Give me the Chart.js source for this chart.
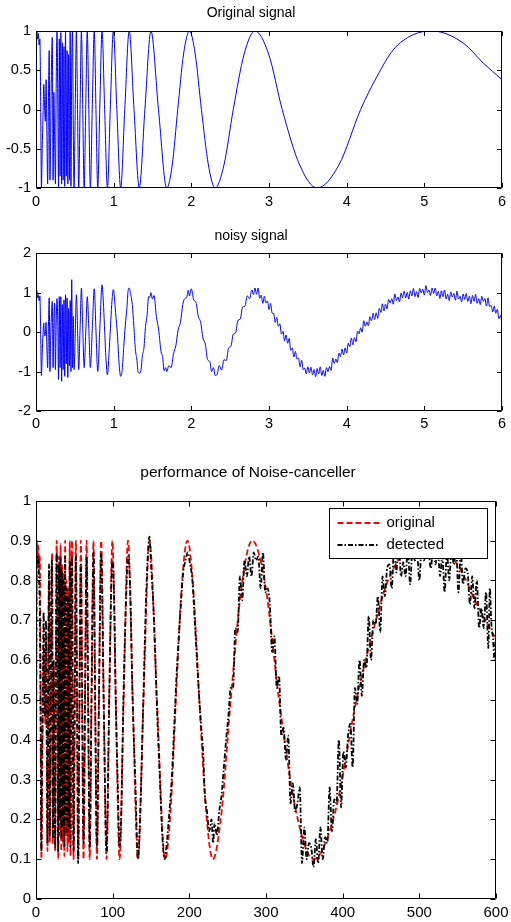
<!DOCTYPE html>
<html>
<head>
<meta charset="utf-8">
<script src="https://cdn.jsdelivr.net/npm/chart.js@4.4.0/dist/chart.umd.min.js"></script>
<style>
  body { margin: 0; background: #fff; }
  canvas { position: absolute; left: 0; }
</style>
</head>
<body>
<canvas id="c1" width="511" height="215" style="top:0px"></canvas>
<canvas id="c2" width="511" height="215" style="top:220px"></canvas>
<canvas id="c3" width="511" height="467" style="top:455px"></canvas>
<script>
// titles / labels
const titles = ['Original signal', 'noisy signal', 'performance of Noise-canceller'];
const legendLabels = ['original', 'detected'];

// tick values
const xTicksSec = [0, 1, 2, 3, 4, 5, 6];
const yTicks1 = [-1, -0.5, 0, 0.5, 1];
const yTicks2 = [-2, -1, 0, 1, 2];
const xTicksSamp = [0, 100, 200, 300, 400, 500, 600];
const yTicks3 = [0, 0.1, 0.2, 0.3, 0.4, 0.5, 0.6, 0.7, 0.8, 0.9, 1];

// original signal [t, y]
const origSignal = [
  [0,-0.7],[0.01,1],[0.02,0.9],[0.03,0.97],[0.04,0.82],[0.05,0.9],[0.06,0.1],[0.07,-1],[0.08,-0.5],[0.09,-0.1],
  [0.1,0.32],[0.11,0.05],[0.12,-0.15],[0.13,0.38],[0.14,-0.3],[0.15,-0.95],[0.16,0.1],[0.17,0.75],[0.18,-0.9],[0.19,-0.2],
  [0.2,0.6],[0.21,0.92],[0.22,-0.9],[0.23,0.22],[0.24,-0.4],[0.25,-0.95],[0.26,0.3],[0.27,1],[0.28,0.2],[0.29,-1],
  [0.3,0.9],[0.31,-0.85],[0.32,0.98],[0.33,-0.95],[0.34,0.85],[0.35,-0.9],[0.36,0.8],[0.37,-0.98],[0.38,1],[0.39,-0.85],
  [0.4,0.75],[0.41,-0.95],[0.42,0.7],[0.43,-0.9],[0.44,1],[0.45,-0.98],[0.46,0.55],[0.47,1],[0.48,-0.2],
  [0.49,-1],[0.505,0],[0.52,1],[0.535,0],[0.55,-1],[0.567,0],[0.585,1],[0.602,0],[0.62,-1],[0.64,0],
  [0.66,1],[0.68,0],[0.7,-1],[0.724,0],[0.75,1],[0.772,0],[0.795,-1],[0.821,0],[0.85,1],[0.884,0],
  [0.92,-1],[0.956,0],[0.996,1],[1.041,0],[1.09,-1],[1.143,0],[1.2,1],[1.262,0],[1.33,-1],[1.402,0],
  [1.48,1],[1.577,0],[1.684,-1],[1.754,-0.707],[1.825,0],[1.9,0.707],[1.976,1],[2.05,0.707],[2.13,0],[2.22,-0.707],
  [2.307,-1],[2.42,-0.707],[2.54,0],[2.68,0.707],[2.82,1],[2.995,0.707],[3.17,0],[3.395,-0.707],[3.62,-1],[3.9,-0.707],
  [4.18,0],[4.39,0.42],[4.6,0.76],[4.85,0.95],[5.1,1],[5.51,0.84],[5.76,0.59],[6.0,0.38]
];

// noisy signal [t, y]
const noisySignal = [
  [0,-0.8],[0.01,1.05],[0.02,0.87],[0.03,0.95],[0.04,0.8],[0.05,0.92],[0.06,0],[0.07,-1.1],[0.08,-0.55],[0.09,-0.05],
  [0.1,0.23],[0.11,-0.1],[0.12,-0.05],[0.13,0.25],[0.14,-0.4],[0.15,-0.9],[0.16,0.15],[0.17,0.87],[0.18,-1],[0.19,-0.1],
  [0.2,0.5],[0.21,0.78],[0.22,-0.9],[0.23,0.3],[0.24,0.74],[0.25,-0.95],[0.26,0.2],[0.27,0.85],[0.28,0.3],[0.29,-1.2],
  [0.3,0.9],[0.31,-0.9],[0.32,0.9],[0.33,-1.25],[0.34,0.7],[0.35,-0.95],[0.36,0.82],[0.37,-1.12],[0.38,0.95],[0.39,-0.8],
  [0.4,0.87],[0.41,-1.15],[0.42,0.6],[0.43,-0.85],[0.44,0.8],[0.45,-1],[0.46,1.33],[0.47,-0.9],[0.48,0.4],[0.49,-0.95],
  [0.505,-0.1],[0.52,0.95],[0.535,0.1],[0.55,-0.95],[0.567,0.05],[0.585,1.12],[0.602,0.1],[0.62,-0.9],[0.64,-0.05],[0.66,0.9],
  [0.68,0.1],[0.7,-0.9],[0.725,0.1],[0.75,1.1],[0.772,0.05],[0.795,-1],[0.822,0.1],[0.85,1.2],[0.87,0.65],[0.885,0],
  [0.9,-0.65],[0.92,-1.08],[0.94,-0.55],[0.958,0.1],[0.975,0.7],[0.996,1.08],
  [1.025,0.5],[1.05,-0.12],[1.07,-0.81],[1.09,-1.12],[1.11,-0.95],[1.13,-0.37],[1.15,0.18],[1.17,0.6],[1.185,1.03],[1.2,1.12],
  [1.22,0.95],[1.24,0.7],[1.26,0.15],[1.28,-0.44],[1.3,-0.72],[1.315,-1.02],[1.33,-1.04],[1.35,-0.98],[1.37,-0.6],[1.39,-0.4],
  [1.41,0.14],[1.43,0.42],[1.45,0.9],[1.465,0.88],[1.48,1],[1.5,0.84],[1.52,0.93],[1.55,0.4],[1.58,0.05],[1.61,-0.5],
  [1.63,-0.62],[1.65,-0.98],[1.67,-0.9],[1.684,-1],[1.71,-0.85],[1.74,-0.9],[1.77,-0.55],[1.8,-0.35],[1.83,0.06],[1.86,0.25],
  [1.89,0.7],[1.915,0.85],[1.94,0.88],[1.96,1.06],[1.976,0.92],[2,1.1],[2.03,0.82],[2.06,0.75],[2.09,0.4],[2.12,0.25],
  [2.15,-0.15],[2.18,-0.3],[2.21,-0.7],[2.24,-0.75],[2.26,-1],[2.285,-0.9],[2.307,-1.1],[2.33,-1.08],[2.36,-0.85],[2.39,-0.96],
  [2.42,-0.7],[2.45,-0.72],[2.48,-0.4],[2.51,-0.36],[2.54,-0.05],[2.57,-0.02],[2.6,0.3],[2.63,0.33],[2.66,0.64],[2.69,0.66],
  [2.72,0.92],[2.75,0.85],[2.78,1.07],[2.8,0.95],
  [2.82,1.12],[2.84,0.96],[2.86,1.12],[2.88,0.86],[2.9,0.94],[2.92,0.73],[2.94,0.91],[2.96,0.74],[2.98,0.79],[3,0.57],
  [3.02,0.73],[3.04,0.48],[3.06,0.47],[3.08,0.25],[3.1,0.37],[3.12,0.15],[3.14,0.21],[3.16,-0.05],[3.18,0.02],[3.2,-0.22],
  [3.22,-0.07],[3.24,-0.28],[3.26,-0.16],[3.28,-0.46],[3.3,-0.4],[3.32,-0.63],[3.34,-0.49],[3.36,-0.68],[3.38,-0.66],[3.4,-0.88],
  [3.42,-0.71],[3.44,-0.95],[3.46,-0.91],[3.48,-1.06],[3.5,-0.88],[3.52,-1.03],[3.54,-0.89],[3.56,-1.08],[3.58,-0.95],[3.6,-1.13],
  [3.62,-0.92],[3.64,-1.06],[3.66,-0.88],[3.68,-1.1],[3.7,-0.97],[3.72,-1.12],[3.74,-0.9],[3.76,-1],[3.78,-0.87],[3.8,-0.97],
  [3.82,-0.66],[3.84,-0.79],[3.86,-0.68],[3.88,-0.77],[3.9,-0.53],[3.92,-0.62],[3.94,-0.43],[3.96,-0.58],[3.98,-0.4],[4,-0.53],
  [4.02,-0.28],[4.04,-0.37],[4.06,-0.15],[4.08,-0.32],[4.1,-0.14],[4.12,-0.24],[4.14,0.03],[4.16,-0.04],[4.18,0.11],[4.2,0],
  [4.22,0.29],[4.24,0.15],[4.26,0.26],[4.28,0.16],[4.3,0.39],[4.32,0.29],[4.34,0.48],[4.36,0.32],[4.38,0.49],[4.4,0.35],
  [4.42,0.6],[4.44,0.5],[4.46,0.72],[4.48,0.54],[4.5,0.71],[4.52,0.59],[4.54,0.83],[4.56,0.74],[4.58,0.85],[4.6,0.71],
  [4.62,0.97],[4.64,0.8],[4.66,0.89],[4.68,0.77],[4.7,0.99],[4.72,0.87],[4.74,1.04],[4.76,0.87],[4.78,1.01],[4.8,0.84],
  [4.82,1.05],[4.84,0.92],[4.86,1.11],[4.88,0.9],[4.9,1.03],[4.92,0.88],[4.94,1.11],[4.96,1],[4.98,1.09],[5,0.94],
  [5.02,1.18],[5.04,1],[5.06,1.07],[5.08,0.93],[5.1,1.12],[5.12,0.98],[5.14,1.12],[5.16,0.92],[5.18,1.04],[5.2,0.85],
  [5.22,1.05],[5.24,0.9],[5.26,1.07],[5.28,0.84],[5.3,0.96],[5.32,0.8],[5.34,1.02],[5.36,0.89],[5.38,0.98],[5.4,0.81],
  [5.42,1.04],[5.44,0.84],[5.46,0.91],[5.48,0.77],[5.5,0.97],[5.52,0.83],[5.54,0.98],[5.56,0.78],[5.58,0.91],[5.6,0.72],
  [5.62,0.93],[5.64,0.78],[5.66,0.96],[5.68,0.73],[5.7,0.85],[5.72,0.7],[5.74,0.91],[5.76,0.78],[5.78,0.85],[5.8,0.66],
  [5.82,0.87],[5.84,0.65],[5.86,0.68],[5.88,0.51],[5.9,0.66],[5.92,0.48],[5.94,0.58],[5.96,0.34],[5.98,0.42],[6,0.25]
];

// bottom panel, original (red dashed) [sample, value]
const originalScaled = [
  [0,0.22],[1,0.9],[2,0.86],[3,0.888],[4,0.828],[5,0.86],[6,0.54],[7,0.1],[8,0.3],[9,0.46],
  [10,0.628],[11,0.52],[12,0.44],[13,0.652],[14,0.38],[15,0.12],[16,0.54],[17,0.8],[18,0.14],[19,0.42],
  [20,0.74],[21,0.868],[22,0.14],[23,0.588],[24,0.34],[25,0.12],[26,0.62],[27,0.9],[28,0.58],[29,0.1],
  [30,0.86],[31,0.16],[32,0.892],[33,0.12],[34,0.84],[35,0.14],[36,0.82],[37,0.108],[38,0.9],[39,0.16],
  [40,0.8],[41,0.12],[42,0.78],[43,0.14],[44,0.9],[45,0.108],[46,0.72],[47,0.9],[48,0.42],
  [49,0.1],[50.5,0.5],[52,0.9],[53.5,0.5],[55,0.1],[56.7,0.5],[58.5,0.9],[60.2,0.5],[62,0.1],[64,0.5],
  [66,0.9],[68,0.5],[70,0.1],[72.4,0.5],[75,0.9],[77.2,0.5],[79.5,0.1],[82.1,0.5],[85,0.9],[88.4,0.5],
  [92,0.1],[95.6,0.5],[99.6,0.9],[104.1,0.5],[109,0.1],[114.3,0.5],[120,0.9],[126.2,0.5],[133,0.1],[140.2,0.5],
  [148,0.9],[157.7,0.5],[168.4,0.1],[175.4,0.217],[182.5,0.5],[190,0.783],[197.6,0.9],[205,0.783],[213,0.5],[222,0.217],
  [230.7,0.1],[242,0.217],[254,0.5],[268,0.783],[282,0.9],[299.5,0.783],[317,0.5],[339.5,0.217],[362,0.1],[390,0.217],
  [418,0.5],[439,0.668],[460,0.804],[485,0.88],[510,0.9],[551,0.836],[576,0.736],[600,0.652]
];

// bottom panel, detected (black dash-dot) [sample, value]
const detectedSignal = [
  [0,0.3],[1,0.86],[2,0.84],[3,0.86],[4,0.8],[5,0.72],[6,0.45],[7,0.12],[8,0.35],[9,0.55],
  [10,0.72],[11,0.5],[12,0.46],[13,0.7],[14,0.4],[15,0.14],[16,0.55],[17,0.84],[18,0.16],[19,0.4],
  [20,0.78],[21,0.85],[22,0.15],[23,0.6],[24,0.32],[25,0.13],[26,0.6],[27,0.87],[28,0.6],[29,0.12],
  [30,0.84],[31,0.2],[32,0.86],[33,0.15],[34,0.82],[35,0.18],[36,0.8],[37,0.13],[38,0.86],[39,0.2],
  [40,0.78],[41,0.16],[42,0.76],[43,0.18],[44,0.85],[45,0.13],[46,0.7],[47,0.86],[48,0.45],
  [49,0.12],[50.5,0.48],[52,0.86],[53.5,0.52],[55,0.09],[56.7,0.5],[58.5,0.84],[60.2,0.5],[62,0.14],[64,0.52],
  [66,0.86],[68,0.5],[70,0.13],[72.4,0.5],[75,0.87],[77.2,0.48],[79.5,0.13],[82.1,0.5],[85,0.87],[88.4,0.48],
  [92,0.12],[95.6,0.52],[99.6,0.85],[102,0.75],[104,0.5],[106.5,0.3],[109,0.13],[111,0.2],[114,0.5],[117,0.72],
  [120,0.86],[123,0.77],[126,0.5],[129.5,0.3],[133,0.1],[136,0.22],[140,0.5],[144,0.78],[148,0.91],[150,0.84],
  [154,0.7],[158,0.47],[162,0.28],[165,0.15],[168,0.1],[171,0.15],[174,0.22],[177,0.3],[180,0.42],[183,0.55],
  [186,0.65],[189,0.74],[192,0.82],[195,0.85],[198,0.87],[201,0.84],[204,0.8],[207,0.7],[210,0.6],[213,0.5],
  [216,0.42],[218,0.37],[220,0.27],[223,0.22],[226,0.17],[229,0.2],[231,0.14],[233,0.19],[236,0.16],[239,0.22],
  [242,0.26],[245,0.33],[248,0.4],[251,0.46],
  [254,0.53],[257,0.53],[260,0.68],[263,0.67],[266,0.81],[269,0.75],[272,0.85],[275,0.81],[278,0.86],[281,0.81],
  [284,0.87],[287,0.85],[290,0.86],[293,0.78],[296,0.87],[299,0.77],[302,0.78],[305,0.74],[308,0.62],[311,0.66],
  [314,0.53],[317,0.56],[320,0.41],[323,0.43],[326,0.35],[329,0.41],[332,0.24],[335,0.29],[338,0.22],[341,0.24],
  [344,0.28],[347,0.09],[350,0.18],[353,0.1],[356,0.14],[359,0.13],[362,0.08],[365,0.15],[368,0.09],[371,0.18],
  [374,0.1],[377,0.155],[380,0.14],[383,0.28],[386,0.17],[389,0.25],[392,0.24],[395,0.4],[398,0.23],[401,0.37],
  [404,0.33],[407,0.41],[410,0.44],[413,0.33],[416,0.53],[419,0.49],[422,0.6],[425,0.51],[428,0.6],[431,0.58],
  [434,0.71],[437,0.6],[440,0.7],[443,0.69],[446,0.76],[449,0.67],[452,0.81],[455,0.76],[458,0.83],[461,0.84],
  [464,0.78],[467,0.88],[470,0.82],[473,0.91],[476,0.81],[479,0.845],[482,0.81],[485,0.88],[488,0.79],[491,0.88],
  [494,0.85],[497,0.87],[500,0.8],[503,0.88],[506,0.85],[509,0.87],[512,0.87],[515,0.83],[518,0.88],[521,0.84],
  [524,0.88],[527,0.81],[530,0.86],[533,0.77],[536,0.87],[539,0.8],[542,0.88],[545,0.84],[548,0.885],[551,0.77],
  [554,0.87],[557,0.79],[560,0.83],[563,0.82],[566,0.74],[569,0.81],[572,0.73],[575,0.8],[578,0.68],[581,0.73],
  [584,0.68],[587,0.77],[590,0.63],[592,0.78],[594,0.69],[596,0.655],[598,0.6],[600,0.68]
];

const FONT = '"Liberation Sans", Arial, sans-serif';
const toXY = pts => pts.map(p => ({ x: p[0], y: p[1] }));

// MATLAB style box with inward ticks on all four sides
const matlabBox = {
  id: 'matlabBox',
  afterDatasetsDraw(chart, args, opts) {
    const ctx = chart.ctx, a = chart.chartArea;
    const len = opts.tickLen || 5;
    const L = Math.round(a.left) + 0.5, R = Math.round(a.right) - 0.5;
    const T = Math.round(a.top) + 0.5, B = Math.round(a.bottom) - 0.5;
    ctx.save();
    ctx.strokeStyle = '#000';
    ctx.lineWidth = 1;
    ctx.beginPath();
    chart.scales.x.ticks.forEach(t => {
      const px = Math.round(chart.scales.x.getPixelForValue(t.value)) + 0.5;
      ctx.moveTo(px, B); ctx.lineTo(px, B - len);
      ctx.moveTo(px, T); ctx.lineTo(px, T + len);
    });
    chart.scales.y.ticks.forEach(t => {
      const py = Math.round(chart.scales.y.getPixelForValue(t.value)) + 0.5;
      ctx.moveTo(L, py); ctx.lineTo(L + len, py);
      ctx.moveTo(R, py); ctx.lineTo(R - len, py);
    });
    ctx.rect(L, T, R - L, B - T);
    ctx.stroke();
    ctx.restore();
  }
};

// boxed legend inside the axes, top right
const boxLegend = {
  id: 'boxLegend',
  afterDraw(chart) {
    const ctx = chart.ctx, a = chart.chartArea;
    const bx = Math.round(a.right - 167) + 0.5, by = Math.round(a.top + 7) + 0.5;
    const bw = 158, bh = 50;
    ctx.save();
    ctx.fillStyle = '#fff';
    ctx.fillRect(bx, by, bw, bh);
    ctx.strokeStyle = '#000';
    ctx.lineWidth = 1;
    ctx.strokeRect(bx, by, bw, bh);
    chart.data.datasets.forEach((ds, i) => {
      const y = by + 14.5 + i * 22;
      ctx.beginPath();
      ctx.strokeStyle = ds.borderColor;
      ctx.lineWidth = ds.borderWidth;
      ctx.setLineDash(ds.borderDash);
      ctx.moveTo(bx + 8, y);
      ctx.lineTo(bx + 50, y);
      ctx.stroke();
      ctx.setLineDash([]);
      ctx.fillStyle = '#000';
      ctx.font = '15px ' + FONT;
      ctx.textBaseline = 'middle';
      ctx.fillText(ds.label, bx + 57, y);
    });
    ctx.restore();
  }
};

function scales(xr, xt, yr, yt, fs, xH, pad) {
  const font = { family: FONT, size: fs };
  const fmt = v => String(v);
  return {
    x: {
      type: 'linear', min: xr[0], max: xr[1],
      grid: { display: false, drawTicks: false }, border: { display: false },
      ticks: { color: '#000', font, padding: pad, maxRotation: 0, autoSkip: false, callback: fmt },
      afterBuildTicks: s => { s.ticks = xt.map(v => ({ value: v })); },
      afterFit: s => { s.height = xH; s.paddingLeft = 0; s.paddingRight = 0; }
    },
    y: {
      type: 'linear', min: yr[0], max: yr[1],
      grid: { display: false, drawTicks: false }, border: { display: false },
      ticks: { color: '#000', font, padding: 5, autoSkip: false, callback: fmt },
      afterBuildTicks: s => { s.ticks = yt.map(v => ({ value: v })); },
      afterFit: s => { s.width = 36; s.paddingTop = 0; s.paddingBottom = 0; }
    }
  };
}

function plugins(title, size, pTop, pBottom, tickLen) {
  return {
    legend: { display: false },
    tooltip: { enabled: false },
    title: {
      display: true, text: title, color: '#000',
      font: { family: FONT, size, weight: 'normal' },
      padding: { top: pTop, bottom: pBottom }
    },
    matlabBox: { tickLen }
  };
}

const lineBase = { pointRadius: 0, fill: false, cubicInterpolationMode: 'monotone' };

new Chart(document.getElementById('c1'), {
  type: 'line',
  data: { datasets: [{ ...lineBase, data: toXY(origSignal), borderColor: '#0000ff', borderWidth: 1 }] },
  options: {
    responsive: false, animation: false,
    layout: { padding: { left: 0, right: 9, top: 0, bottom: 0 } },
    scales: scales([0, 6], xTicksSec, [-1, 1], yTicks1, 14.5, 27, 5),
    plugins: plugins(titles[0], 14, 5, 9.2, 4.5)
  },
  plugins: [matlabBox]
});

new Chart(document.getElementById('c2'), {
  type: 'line',
  data: { datasets: [{ ...lineBase, data: toXY(noisySignal), borderColor: '#0000ff', borderWidth: 1 }] },
  options: {
    responsive: false, animation: false,
    layout: { padding: { left: 0, right: 9, top: 0, bottom: 0 } },
    scales: scales([0, 6], xTicksSec, [-2, 2], yTicks2, 14.5, 24, 4),
    plugins: plugins(titles[1], 14, 7.6, 8.9, 4.5)
  },
  plugins: [matlabBox]
});

new Chart(document.getElementById('c3'), {
  type: 'line',
  data: {
    datasets: [
      { ...lineBase, label: legendLabels[0], data: toXY(originalScaled), borderColor: '#ff0000', borderWidth: 1.8, borderDash: [6, 3], order: 1 },
      { ...lineBase, label: legendLabels[1], data: toXY(detectedSignal), borderColor: '#000000', borderWidth: 1.8, borderDash: [5, 2, 1.5, 2], order: 0 }
    ]
  },
  options: {
    responsive: false, animation: false,
    layout: { padding: { left: 0, right: 15, top: 0, bottom: 0 } },
    scales: scales([0, 600], xTicksSamp, [0, 1], yTicks3, 15, 23, 5),
    plugins: plugins(titles[2], 15.5, 8.7, 18.4, 5)
  },
  plugins: [matlabBox, boxLegend]
});
</script>
</body>
</html>
